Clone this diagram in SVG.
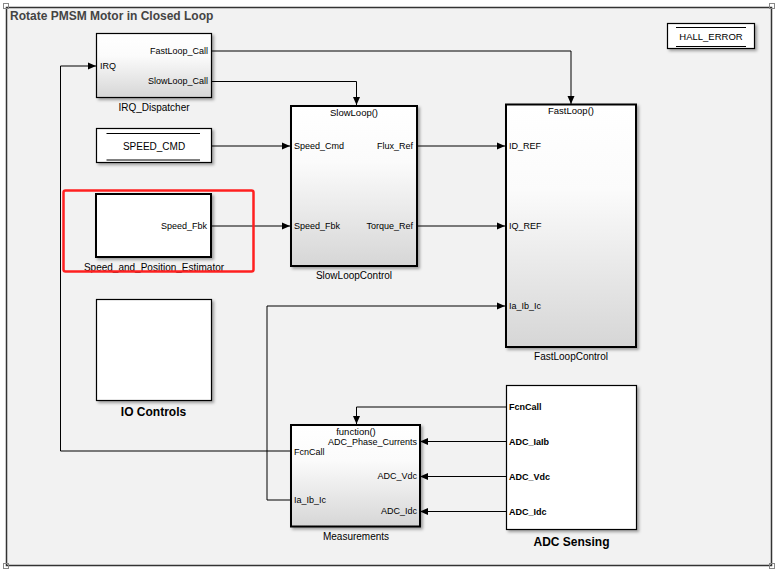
<svg xmlns="http://www.w3.org/2000/svg" width="776" height="573" viewBox="0 0 776 573">
<defs>
<style>
text{font-family:"Liberation Sans",Arial,sans-serif;fill:#000}
.p{font-size:9px}
.pb{font-size:9px;font-weight:bold}
.nm{font-size:10px;text-anchor:middle}
.nb{font-size:12px;font-weight:bold;text-anchor:middle}
.blk{stroke:#000;stroke-width:2;filter:url(#sh)}
.thin{stroke:#000;stroke-width:1.2;filter:url(#sh)}
.w{fill:#fff}
.g{fill:url(#gr)}
.c{fill:none;stroke:#000;stroke-width:1}
.cm{marker-end:url(#ah)}
.e{text-anchor:end}
.m{text-anchor:middle}
</style>
<linearGradient id="gr" x1="0" y1="0" x2="0" y2="1">
<stop offset="0" stop-color="#ffffff"/>
<stop offset="0.35" stop-color="#fbfbfb"/>
<stop offset="1" stop-color="#d6d6d6"/>
</linearGradient>
<filter id="sh" x="-10%" y="-10%" width="130%" height="130%">
<feDropShadow dx="2" dy="2" stdDeviation="1.5" flood-color="#000" flood-opacity="0.35"/>
</filter>
<marker id="ah" markerUnits="userSpaceOnUse" markerWidth="10" markerHeight="10" viewBox="0 0 10 10" refX="9" refY="5" orient="auto">
<path d="M1,1.5 L9,5 L1,8.5 Z" fill="#000"/>
</marker>
</defs>
<rect x="0" y="0" width="776" height="573" fill="#fff"/>
<rect x="6.5" y="7.5" width="765" height="558" fill="#f2f2f2" stroke="#333" stroke-width="1.5"/>
<g fill="none" stroke="#888" stroke-width="1">
<rect x="3.5" y="3.5" width="5" height="5"/>
<rect x="769.5" y="3.5" width="5" height="5"/>
<rect x="3.5" y="563.5" width="5" height="5"/>
<rect x="769.5" y="563.5" width="5" height="5"/>
</g>
<text x="10" y="20" style="font-size:12px;font-weight:bold;fill:#444">Rotate PMSM Motor in Closed Loop</text>

<g id="connectors">
<path class="c cm" d="M211,51 H571 V104"/>
<path class="c cm" d="M211,81.5 H356.5 V105"/>
<path class="c cm" d="M211,146 H290"/>
<path class="c cm" d="M211,226 H290"/>
<path class="c cm" d="M417,146 H505"/>
<path class="c cm" d="M417,226 H505"/>
<path class="c cm" d="M290,500 H267 V306 H505"/>
<path class="c cm" d="M290,451 H60.5 V66 H96"/>
<path class="c cm" d="M506,407 H356.5 V424"/>
<path class="c cm" d="M506,441.5 H420"/>
<path class="c cm" d="M506,476.5 H420"/>
<path class="c cm" d="M506,511.5 H420"/>
</g>

<g id="IRQ_Dispatcher">
<rect class="thin g" x="96.5" y="33.5" width="115" height="64"/>
<text class="p" x="100" y="69">IRQ</text>
<text class="p e" x="208" y="54">FastLoop_Call</text>
<text class="p e" x="208" y="84">SlowLoop_Call</text>
<text class="nm" x="154" y="110.5">IRQ_Dispatcher</text>
</g>

<g id="SPEED_CMD">
<rect class="thin w" x="96.5" y="128.5" width="115" height="34"/>
<line x1="106.5" y1="133.5" x2="200" y2="133.5" stroke="#000" stroke-width="1"/>
<line x1="106.5" y1="160" x2="200" y2="160" stroke="#000" stroke-width="1"/>
<text class="m" x="154" y="150" style="font-size:10px">SPEED_CMD</text>
</g>

<g id="Speed_and_Position_Estimator">
<rect class="blk w" x="96" y="194" width="115" height="63"/>
<text class="p e" x="207" y="229">Speed_Fbk</text>
<text class="nm" x="154" y="270.5">Speed_and_Position_Estimator</text>
</g>
<rect x="63.5" y="190.5" width="190" height="81" rx="2" fill="none" stroke="#ff2020" stroke-width="2.5"/>

<g id="SlowLoopControl">
<rect class="blk g" x="291" y="106" width="126" height="160"/>
<text class="nm" x="354" y="115.5" style="font-size:9.5px">SlowLoop()</text>
<text class="p" x="294" y="149">Speed_Cmd</text>
<text class="p" x="294" y="229">Speed_Fbk</text>
<text class="p e" x="413" y="149">Flux_Ref</text>
<text class="p e" x="413" y="229">Torque_Ref</text>
<text class="nm" x="354" y="278.5">SlowLoopControl</text>
</g>

<g id="FastLoopControl">
<rect class="blk g" x="506" y="104.5" width="130" height="242.5"/>
<text class="nm" x="571" y="113.5" style="font-size:9.5px">FastLoop()</text>
<text class="p" x="509" y="149">ID_REF</text>
<text class="p" x="509" y="229">IQ_REF</text>
<text class="p" x="509" y="309">Ia_Ib_Ic</text>
<text class="nm" x="571" y="359.5">FastLoopControl</text>
</g>

<g id="HALL_ERROR">
<rect class="thin w" x="667.5" y="23.5" width="87" height="25"/>
<line x1="676" y1="27.5" x2="746" y2="27.5" stroke="#000" stroke-width="1"/>
<line x1="676" y1="46.5" x2="746" y2="46.5" stroke="#000" stroke-width="1"/>
<text class="m" x="711" y="40" style="font-size:9.5px">HALL_ERROR</text>
</g>

<g id="IO_Controls">
<rect class="thin w" x="96.5" y="299.5" width="115" height="101"/>
<text class="nb" x="153.5" y="416">IO Controls</text>
</g>

<g id="Measurements">
<rect class="blk g" x="291" y="425" width="129" height="101.5"/>
<text class="nm" x="356" y="434.5" style="font-size:9.5px">function()</text>
<text class="p e" x="417" y="444.5">ADC_Phase_Currents</text>
<text class="p e" x="417" y="479">ADC_Vdc</text>
<text class="p e" x="417" y="514">ADC_Idc</text>
<text class="p" x="294" y="454.5">FcnCall</text>
<text class="p" x="294" y="503">Ia_Ib_Ic</text>
<text class="nm" x="356" y="539.5">Measurements</text>
</g>

<g id="ADC_Sensing">
<rect class="thin w" x="506.5" y="385.5" width="130" height="144"/>
<text class="pb" x="509" y="410">FcnCall</text>
<text class="pb" x="509" y="445">ADC_IaIb</text>
<text class="pb" x="509" y="480">ADC_Vdc</text>
<text class="pb" x="509" y="515">ADC_Idc</text>
<text class="nb" x="571.5" y="546">ADC Sensing</text>
</g>
</svg>
